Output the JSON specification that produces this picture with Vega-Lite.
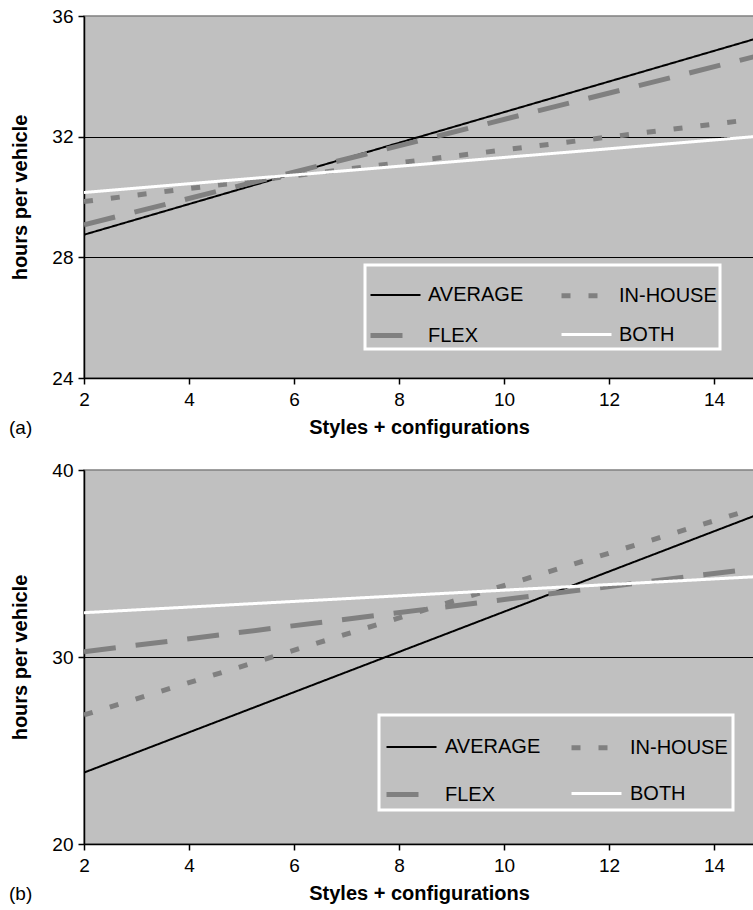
{
  "$schema": "https://vega.github.io/schema/vega-lite/v6.json",
  "autosize": {"type": "pad"},
  "padding": {"left": 8, "top": 6, "right": 0, "bottom": 0},
  "background": "white",
  "bounds": "flush",
  "spacing": 92,
  "datasets": {
    "a": [
      {"series": "AVERAGE", "x": 2, "y": 28.75},
      {"series": "AVERAGE", "x": 14.76, "y": 35.23},
      {"series": "FLEX", "x": 2, "y": 29.08},
      {"series": "FLEX", "x": 14.76, "y": 34.65},
      {"series": "IN-HOUSE", "x": 2, "y": 29.85},
      {"series": "IN-HOUSE", "x": 14.76, "y": 32.58},
      {"series": "BOTH", "x": 2, "y": 30.15},
      {"series": "BOTH", "x": 14.76, "y": 32.0}
    ],
    "b": [
      {"series": "AVERAGE", "x": 2, "y": 23.82},
      {"series": "AVERAGE", "x": 14.76, "y": 37.54},
      {"series": "FLEX", "x": 2, "y": 30.28},
      {"series": "FLEX", "x": 14.76, "y": 34.73},
      {"series": "IN-HOUSE", "x": 2, "y": 26.9},
      {"series": "IN-HOUSE", "x": 14.76, "y": 37.94},
      {"series": "BOTH", "x": 2, "y": 32.37},
      {"series": "BOTH", "x": 14.76, "y": 34.29}
    ]
  },
  "vconcat": [
    {
      "width": 670,
      "height": 362,
      "data": {"name": "a"},
      "title": {"text": "(a)", "orient": "bottom", "anchor": "start", "frame": "group", "dx": -75, "offset": -18, "fontSize": 19, "fontWeight": "normal", "color": "black"},
      "mark": {"type": "line", "clip": true, "strokeCap": "butt"},
      "encoding": {
        "x": {"field": "x", "type": "quantitative", "scale": {"domain": [2, 14.76], "nice": false, "zero": false}, "axis": {"values": [2, 4, 6, 8, 10, 12, 14], "title": "Styles + configurations"}},
        "y": {"field": "y", "type": "quantitative", "scale": {"domain": [24, 36], "nice": false, "zero": false}, "axis": {"values": [24, 28, 32, 36], "title": "hours per vehicle", "gridOpacity": {"condition": {"test": "datum.value >= 36", "value": 0}, "value": 1}}},
        "color": {"field": "series", "type": "nominal", "sort": null, "scale": {"domain": ["AVERAGE", "FLEX", "IN-HOUSE", "BOTH"], "range": ["black", "#808080", "#808080", "white"]},
          "legend": {"title": null, "orient": "none", "legendX": 281, "legendY": 249, "columns": 2, "columnPadding": 27, "rowPadding": 2, "padding": 3, "symbolType": "stroke", "symbolSize": 2500, "labelOffset": 5, "labelFontSize": 20, "labelColor": "black", "strokeColor": "white", "fillColor": "#c0c0c0", "encode": {"legend": {"update": {"strokeWidth": {"value": 3}}}}}},
        "strokeDash": {"field": "series", "type": "nominal", "sort": null, "scale": {"domain": ["AVERAGE", "FLEX", "IN-HOUSE", "BOTH"], "range": [[1, 0], [32, 20], [9, 18], [1, 0]]}},
        "strokeWidth": {"field": "series", "type": "nominal", "sort": null, "scale": {"type": "ordinal", "domain": ["AVERAGE", "FLEX", "IN-HOUSE", "BOTH"], "range": [2, 5, 5, 3]}}
      }
    },
    {
      "width": 670,
      "height": 374,
      "data": {"name": "b"},
      "title": {"text": "(b)", "orient": "bottom", "anchor": "start", "frame": "group", "dx": -75, "offset": -18, "fontSize": 19, "fontWeight": "normal", "color": "black"},
      "mark": {"type": "line", "clip": true, "strokeCap": "butt"},
      "encoding": {
        "x": {"field": "x", "type": "quantitative", "scale": {"domain": [2, 14.76], "nice": false, "zero": false}, "axis": {"values": [2, 4, 6, 8, 10, 12, 14], "title": "Styles + configurations"}},
        "y": {"field": "y", "type": "quantitative", "scale": {"domain": [20, 40], "nice": false, "zero": false}, "axis": {"values": [20, 30, 40], "title": "hours per vehicle", "gridOpacity": {"condition": {"test": "datum.value >= 40", "value": 0}, "value": 1}}},
        "color": {"field": "series", "type": "nominal", "sort": null, "scale": {"domain": ["AVERAGE", "FLEX", "IN-HOUSE", "BOTH"], "range": ["black", "#808080", "#808080", "white"]},
          "legend": {"title": null, "orient": "none", "legendX": 295, "legendY": 245, "columns": 2, "columnPadding": 20, "rowPadding": 9, "padding": 5, "symbolType": "stroke", "symbolSize": 2500, "labelOffset": 6, "labelFontSize": 20, "labelColor": "black", "strokeColor": "white", "fillColor": "#c0c0c0", "encode": {"legend": {"update": {"strokeWidth": {"value": 3}}}}}},
        "strokeDash": {"field": "series", "type": "nominal", "sort": null, "scale": {"domain": ["AVERAGE", "FLEX", "IN-HOUSE", "BOTH"], "range": [[1, 0], [32, 20], [9, 18], [1, 0]]}},
        "strokeWidth": {"field": "series", "type": "nominal", "sort": null, "scale": {"type": "ordinal", "domain": ["AVERAGE", "FLEX", "IN-HOUSE", "BOTH"], "range": [2, 5, 5, 3]}}
      }
    }
  ],
  "resolve": {
    "scale": {"x": "independent", "y": "independent", "color": "independent", "strokeDash": "independent", "strokeWidth": "independent"},
    "legend": {"color": "independent", "strokeDash": "independent", "strokeWidth": "independent"}
  },
  "config": {
    "font": "Liberation Sans",
    "view": {"fill": "#c0c0c0", "stroke": "#808080", "strokeWidth": 1.5},
    "axis": {"domainColor": "black", "domainWidth": 1.5, "tickColor": "black", "tickWidth": 1.5, "tickSize": 6, "labelColor": "black", "titleColor": "black", "labelFontSize": 19, "titleFontSize": 20, "titleFontWeight": "bold", "labelFont": "Liberation Sans", "titleFont": "Liberation Sans"},
    "axisX": {"grid": false, "labelPadding": 6, "titlePadding": 8, "labelFlush": false},
    "axisY": {"grid": true, "gridColor": "black", "gridWidth": 1, "labelPadding": 5, "titlePadding": 21, "labelFlush": false}
  }
}
